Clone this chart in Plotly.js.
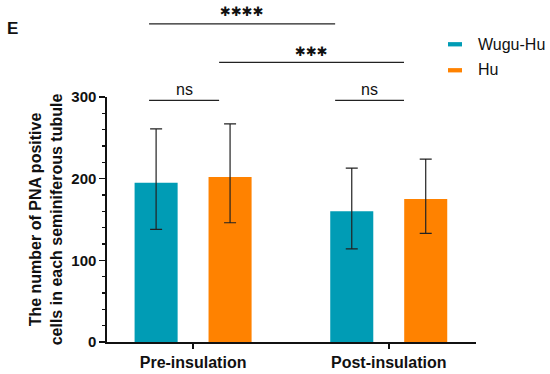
<!DOCTYPE html>
<html>
<head>
<meta charset="utf-8">
<script src="https://cdn.plot.ly/plotly-3.0.1.min.js"></script>
<style>html,body{margin:0;padding:0;background:#fff;}#chart{width:550px;height:374px;}</style>
</head>
<body>
<div id="chart"></div>
<script>
var categories = ["Pre-insulation", "Post-insulation"];
var seriesNames = ["Wugu-Hu", "Hu"];
var wuguHuMean = [195, 160];
var wuguHuErrPlus = [66, 53];
var wuguHuErrMinus = [57, 46];
var huMean = [202, 175];
var huErrPlus = [65, 49];
var huErrMinus = [56, 42];
var yTickVals = [0, 100, 200, 300];
var sigLabels = ["✱✱✱✱", "✱✱✱", "ns", "ns"];

var teal = "#009CB5", orange = "#FF8200";
var F = "Arial, 'Liberation Sans', sans-serif";

function bar(name, y, ep, em, color) {
  return {
    type: "bar", name: name, x: categories, y: y,
    marker: {color: color, line: {width: 0}},
    error_y: {type: "data", symmetric: false, array: ep, arrayminus: em,
              color: "#222", thickness: 1.2, width: 6},
    showlegend: false, hoverinfo: "skip"
  };
}

var traces = [
  bar(seriesNames[0], wuguHuMean, wuguHuErrPlus, wuguHuErrMinus, teal),
  bar(seriesNames[1], huMean, huErrPlus, huErrMinus, orange)
];

var L = 107, R = 476, T = 96.6, B = 341.7;
function px(x) { return (x - L) / (R - L); }
function py(y) { return (B - y) / (B - T); }

var lineStyle = {color: "#222", width: 1.2};
var shapes = [
  {type: "line", xref: "x", yref: "paper", x0: -0.225, x1: 0.726, y0: py(23.5), y1: py(23.5), line: lineStyle},
  {type: "line", xref: "x", yref: "paper", x0: 0.133, x1: 1.078, y0: py(62), y1: py(62), line: lineStyle},
  {type: "line", xref: "x", yref: "paper", x0: -0.225, x1: 0.133, y0: py(100), y1: py(100), line: lineStyle},
  {type: "line", xref: "x", yref: "paper", x0: 0.726, x1: 1.078, y0: py(100), y1: py(100), line: lineStyle},
  {type: "rect", xref: "paper", yref: "paper", x0: px(448), x1: px(462), y0: py(46), y1: py(41.7), fillcolor: teal, line: {width: 0}},
  {type: "rect", xref: "paper", yref: "paper", x0: px(448), x1: px(462), y0: py(72), y1: py(67.7), fillcolor: orange, line: {width: 0}}
];

var starFont = {family: "'DejaVu Sans'", size: 13, color: "#111"};
var annotations = [
  {xref: "x", yref: "paper", x: 0.25, y: py(11.5), text: sigLabels[0], showarrow: false,
   font: starFont, yanchor: "middle"},
  {xref: "x", yref: "paper", x: 0.606, y: py(51), text: sigLabels[1], showarrow: false,
   font: starFont, yanchor: "middle"},
  {xref: "x", yref: "paper", x: -0.043, y: py(89), text: sigLabels[2], showarrow: false,
   font: {family: F, size: 16, color: "#111"}, yanchor: "middle"},
  {xref: "x", yref: "paper", x: 0.903, y: py(89), text: sigLabels[3], showarrow: false,
   font: {family: F, size: 16, color: "#111"}, yanchor: "middle"},
  {xref: "paper", yref: "paper", x: px(476), y: py(44), text: seriesNames[0], showarrow: false,
   xanchor: "left", yanchor: "middle", font: {family: F, size: 16, color: "#111"}},
  {xref: "paper", yref: "paper", x: px(476), y: py(69.5), text: seriesNames[1], showarrow: false,
   xanchor: "left", yanchor: "middle", font: {family: F, size: 16, color: "#111"}},
  {xref: "paper", yref: "paper", x: px(5), y: py(28), text: "<b>E</b>", showarrow: false,
   xanchor: "left", yanchor: "middle", font: {family: F, size: 17, color: "#111"}}
];

var layout = {
  width: 550, height: 374,
  margin: {l: L, r: 550 - R, t: T, b: 374 - B, pad: 0},
  paper_bgcolor: "#fff", plot_bgcolor: "#fff",
  barmode: "group", bargap: 0.244, bargroupgap: 0.418,
  font: {family: F, color: "#111"},
  xaxis: {
    type: "category", range: [-0.44, 1.446], showgrid: false, zeroline: false,
    showline: true, linecolor: "#111", linewidth: 1.6,
    ticks: "outside", ticklen: 5, tickwidth: 1.6, tickcolor: "#111",
    tickfont: {family: F, size: 16, color: "#111", weight: "bold"}
  },
  yaxis: {
    range: [0, 300], showgrid: false, zeroline: false,
    showline: true, linecolor: "#111", linewidth: 1.6,
    tickvals: yTickVals, ticks: "outside", ticklen: 6, tickwidth: 1.6, tickcolor: "#111",
    tickfont: {family: F, size: 15, color: "#111", weight: "bold"},
    minor: {dtick: 20, ticks: "outside", ticklen: 3, tickwidth: 1.4, tickcolor: "#111", showgrid: false},
    title: {text: "The number of PNA positive<br>cells in each seminiferous tubule",
            font: {family: F, size: 16, color: "#111", weight: "bold"}, standoff: 5}
  },
  shapes: shapes,
  annotations: annotations,
  showlegend: false
};

Plotly.newPlot("chart", traces, layout, {displayModeBar: false, staticPlot: true});
</script>
</body>
</html>
